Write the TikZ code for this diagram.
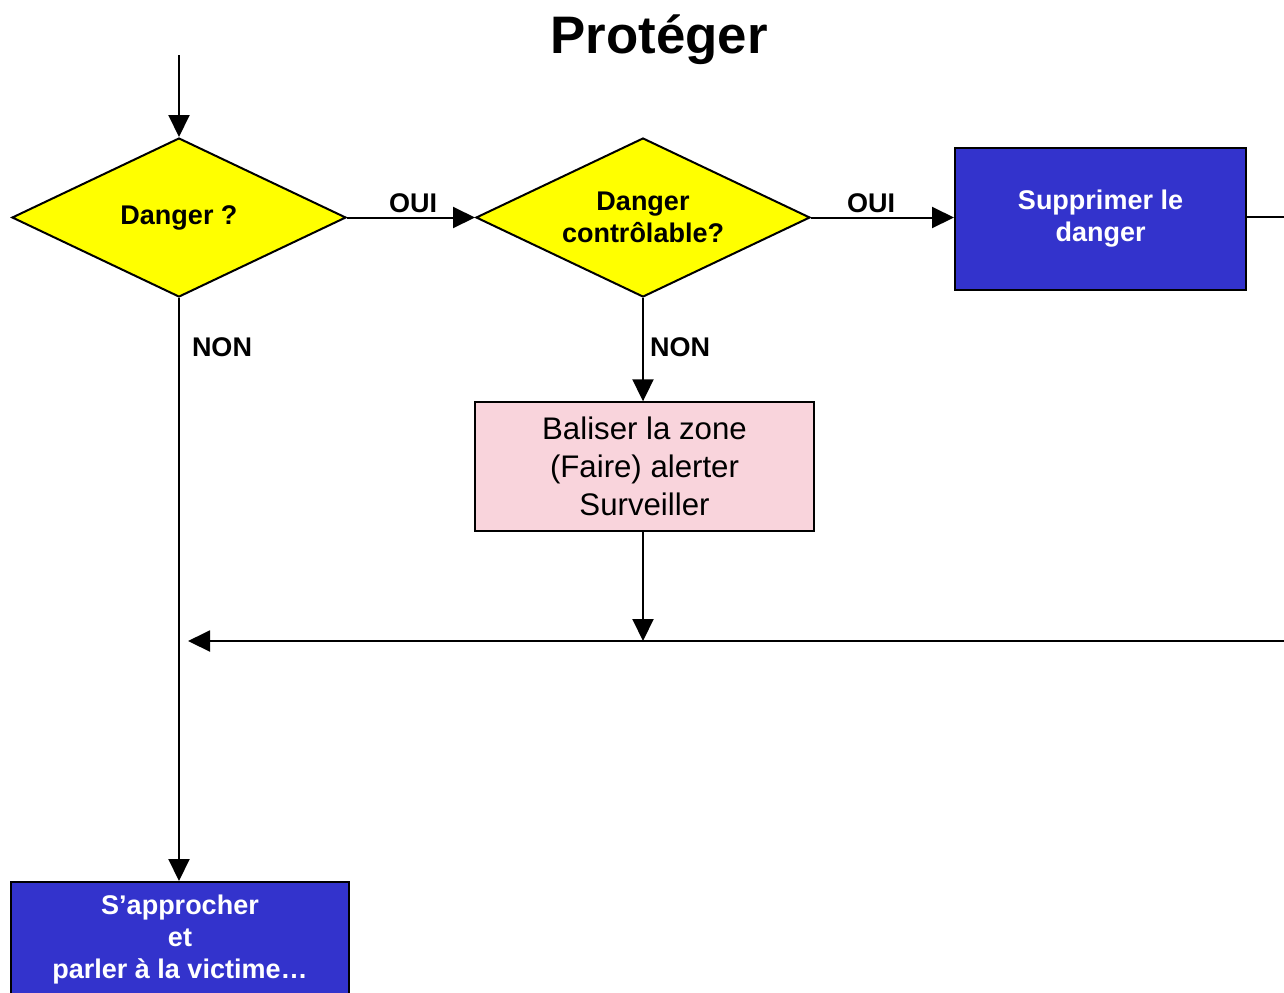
\documentclass[tikz,border=0pt]{standalone}
\usepackage{fontspec}
\setmainfont{Liberation Sans}
\usepackage{tikz}
\usetikzlibrary{shapes.geometric,arrows.meta,positioning}
\definecolor{myyellow}{RGB}{255,255,0}
\definecolor{myblue}{RGB}{51,51,204}
\definecolor{mypink}{RGB}{249,212,220}
\newcommand{\lblfont}{\bfseries\fontsize{13.5}{16}\selectfont}
\tikzstyle{decision}=[draw,fill=myyellow,diamond,aspect=2.1,minimum width=167pt,minimum height=79.5pt,inner sep=0pt,align=center,font=\lblfont]
\tikzstyle{action}=[draw,line width=1pt,fill=myblue,rectangle,text=white,align=center,font=\lblfont]

\begin{document}
\begin{tikzpicture}[
  x=0.5pt, y=-0.5pt,
  line width=1pt,
  flow/.style={-{Triangle[length=11pt,width=10.5pt]}},
  lbl/.style={font=\lblfont,inner sep=0pt},
  warn/.style={
    draw,
    line width=0.7pt,
    fill=mypink,
    rectangle,
    align=center,
    minimum width=169.5pt,
    minimum height=64.5pt,
    font=\fontsize{15.6}{19}\selectfont
    }
]
\useasboundingbox (0,0) rectangle (1284,992);

\node[font=\bfseries\fontsize{26.4}{30}\selectfont] (title) at (659,40) {Protéger};

\node [decision] (d1) at (179,217.5) {Danger ?};
\node [decision] (d2) at (643,217.5) {Danger\\contrôlable?};
\node [action, minimum width=145.5pt, minimum height=71pt] (supp) at (1100.5,219) {Supprimer le\\danger};
\node [warn] (balise) at (644.5,466.5) {Baliser la zone\\(Faire) alerter\\Surveiller};
\node [action, minimum width=169pt, minimum height=57pt] (approach) at (180,939) {S’approcher\\et\\parler à la victime…};

\coordinate (start) at (179,55);
\coordinate (merge) at (643,641);
\coordinate (rightin) at (1300,641);
\coordinate (leftend) at (188,641);
\coordinate (rightout) at (1300,217);

% connectors
\draw[flow] (start) -- (d1.north);
\draw[flow] (d1.east) -- (d2.west);
\draw[flow] (d2.east) -- (d2.east -| supp.west);
\draw (supp.east |- rightout) -- (rightout);
\draw[flow] (d2.south) -- (d2.south |- balise.north);
\draw[flow] (d2.south |- balise.south) -- (merge);
\draw[flow] (rightin) -- (leftend);
\draw[flow] (d1.south) -- (d1.south |- approach.north);

% labels
\node[lbl] (oui1) at (413,203) {OUI};
\node[lbl] (oui2) at (871,203) {OUI};
\node[lbl] (non1) at (222,347) {NON};
\node[lbl] (non2) at (680,347) {NON};

\end{tikzpicture}
\end{document}
